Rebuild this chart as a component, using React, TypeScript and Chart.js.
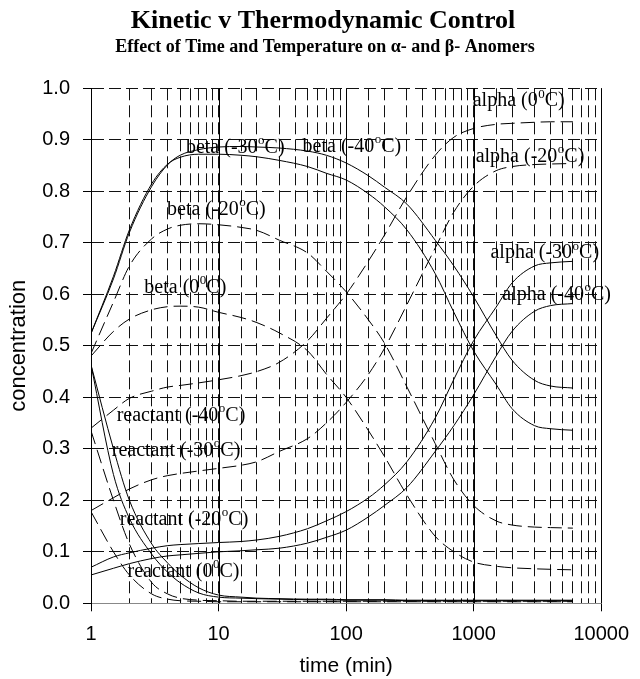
import React, { useEffect, useRef } from 'react';
import { Chart, registerables } from 'chart.js';

Chart.register(...registerables);

// ---- data (time in minutes, concentration fraction) ----
const times = [1, 1.5, 2, 3, 4, 5, 7, 10, 15, 20, 30, 50, 70, 100, 150, 200, 300, 500, 700, 1000, 1500, 2000, 3000, 4000, 6000];

const beta0 = [0.48, 0.528, 0.552, 0.57, 0.576, 0.577, 0.575, 0.565, 0.555, 0.545, 0.525, 0.49, 0.445, 0.4, 0.335, 0.285, 0.21, 0.13, 0.1, 0.08, 0.072, 0.069, 0.067, 0.066, 0.065];
const alpha0 = [0.34, 0.375, 0.398, 0.412, 0.42, 0.423, 0.428, 0.434, 0.442, 0.45, 0.468, 0.51, 0.553, 0.6, 0.665, 0.715, 0.79, 0.87, 0.905, 0.922, 0.93, 0.932, 0.934, 0.935, 0.935];
const reactant0 = [0.178, 0.1, 0.055, 0.018, 0.008, 0.005, 0.004, 0.003, 0.003, 0.003, 0.003, 0.003, 0.003, 0.003, 0.003, 0.003, 0.003, 0.003, 0.003, 0.003, 0.003, 0.003, 0.003, 0.003, 0.003];

const beta20 = [0.485, 0.585, 0.655, 0.708, 0.727, 0.734, 0.737, 0.735, 0.73, 0.724, 0.705, 0.68, 0.645, 0.605, 0.55, 0.505, 0.42, 0.31, 0.24, 0.19, 0.16, 0.152, 0.148, 0.147, 0.146];
const alpha20 = [0.18, 0.205, 0.222, 0.24, 0.248, 0.252, 0.257, 0.262, 0.268, 0.275, 0.295, 0.32, 0.35, 0.39, 0.445, 0.495, 0.58, 0.69, 0.76, 0.81, 0.84, 0.848, 0.852, 0.853, 0.854];
const reactant20 = [0.335, 0.2, 0.115, 0.04, 0.018, 0.01, 0.006, 0.005, 0.004, 0.004, 0.004, 0.004, 0.004, 0.004, 0.004, 0.004, 0.004, 0.004, 0.004, 0.004, 0.004, 0.004, 0.004, 0.004, 0.004];

const beta30 = [0.524, 0.635, 0.725, 0.815, 0.853, 0.866, 0.872, 0.872, 0.87, 0.867, 0.86, 0.848, 0.835, 0.822, 0.795, 0.77, 0.725, 0.64, 0.565, 0.49, 0.425, 0.378, 0.345, 0.339, 0.336];
const alpha30 = [0.07, 0.09, 0.098, 0.107, 0.112, 0.114, 0.116, 0.118, 0.12, 0.123, 0.13, 0.145, 0.16, 0.178, 0.205, 0.23, 0.275, 0.36, 0.435, 0.51, 0.575, 0.622, 0.655, 0.661, 0.664];
const reactant30 = [0.463, 0.25, 0.165, 0.095, 0.06, 0.04, 0.02, 0.012, 0.01, 0.009, 0.008, 0.007, 0.007, 0.006, 0.006, 0.006, 0.005, 0.005, 0.005, 0.005, 0.005, 0.005, 0.005, 0.005, 0.005];

const beta40 = [0.524, 0.63, 0.72, 0.81, 0.852, 0.87, 0.881, 0.886, 0.887, 0.886, 0.884, 0.878, 0.87, 0.855, 0.83, 0.808, 0.775, 0.705, 0.655, 0.595, 0.52, 0.472, 0.433, 0.422, 0.418];
const alpha40 = [0.055, 0.068, 0.077, 0.087, 0.092, 0.094, 0.097, 0.1, 0.102, 0.104, 0.107, 0.117, 0.128, 0.142, 0.168, 0.19, 0.225, 0.295, 0.345, 0.405, 0.48, 0.528, 0.567, 0.578, 0.582];
const reactant40 = [0.463, 0.3, 0.2, 0.115, 0.078, 0.055, 0.03, 0.016, 0.012, 0.01, 0.009, 0.008, 0.008, 0.007, 0.007, 0.007, 0.006, 0.006, 0.006, 0.006, 0.006, 0.006, 0.006, 0.006, 0.006];

// tick values
const xDecades = [1, 10, 100, 1000, 10000];
const yStep = 0.1;

// titles
const titleText = 'Kinetic v Thermodynamic Control';
const subtitleText = 'Effect of Time and Temperature on α- and β- Anomers';

// in-chart labels: anchor time, anchor concentration, text, superscript
const labelTimes = [5.55, 45.6, 3.95, 2.62, 983, 1037, 1355, 1679, 1.59, 1.455, 1.68, 1.935];
const labelValues = [0.885, 0.886, 0.764, 0.613, 0.975, 0.867, 0.68, 0.599, 0.364, 0.296, 0.162, 0.061];
const labelTexts = ['beta (-30', 'beta (-40', 'beta (-20', 'beta (0', 'alpha (0', 'alpha (-20', 'alpha (-30', 'alpha (-40', 'reactant (-40', 'reactant (-30', 'reactant (-20', 'reactant (0'];
const labelSups = ['o', 'o', 'o', '0', '0', 'o', 'o', 'o', 'o', 'o', 'o', '0'];

const SERIF = '"Liberation Serif", "Times New Roman", serif';
const SANS = '"Liberation Sans", Arial, sans-serif';

const isDecade = (v: number) => {
  const l = Math.log10(v);
  return Math.abs(l - Math.round(l)) < 1e-9;
};

const mk = (label: string, arr: number[], dashed: boolean) => ({
  label,
  data: times.map((t, i) => ({ x: t, y: arr[i] })),
  borderColor: '#000',
  backgroundColor: '#000',
  borderWidth: 1,
  borderDash: dashed ? [14, 6] : [],
  pointRadius: 0,
  fill: false,
  cubicInterpolationMode: 'monotone' as const,
});

const titlePlugin = {
  id: 'titles',
  afterDraw(chart: any) {
    const { ctx } = chart;
    ctx.save();
    ctx.fillStyle = '#000';
    ctx.textAlign = 'center';
    ctx.textBaseline = 'middle';
    ctx.font = `bold 26px ${SERIF}`;
    ctx.fillText(titleText, 323, 21);
    ctx.font = `bold 18px ${SERIF}`;
    ctx.fillText(subtitleText, 325, 47);
    ctx.restore();
  },
};

const decadeLinesPlugin = {
  id: 'decadeLines',
  beforeDatasetsDraw(chart: any) {
    const { ctx, chartArea, scales } = chart;
    const xs = scales.x;
    ctx.save();
    ctx.strokeStyle = '#000';
    ctx.lineWidth = 1;
    ctx.setLineDash([]);
    xDecades.forEach((d) => {
      const px = Math.round(xs.getPixelForValue(d)) + 0.5;
      ctx.beginPath();
      ctx.moveTo(px, chartArea.top);
      ctx.lineTo(px, chartArea.bottom);
      ctx.stroke();
    });
    ctx.restore();
  },
};

const labelPlugin = {
  id: 'curveLabels',
  afterDatasetsDraw(chart: any) {
    const { ctx, scales } = chart;
    ctx.save();
    ctx.fillStyle = '#000';
    ctx.textBaseline = 'middle';
    ctx.textAlign = 'left';
    labelTexts.forEach((txt, i) => {
      const x = scales.x.getPixelForValue(labelTimes[i]);
      const y = scales.y.getPixelForValue(labelValues[i]);
      ctx.font = `20px ${SERIF}`;
      ctx.fillText(txt, x, y);
      let cx = x + ctx.measureText(txt).width;
      ctx.font = `13px ${SERIF}`;
      ctx.fillText(labelSups[i], cx + 0.5, y - 7);
      cx += ctx.measureText(labelSups[i]).width + 0.5;
      ctx.font = `20px ${SERIF}`;
      ctx.fillText('C)', cx, y);
    });
    ctx.restore();
  },
};

export default function App() {
  const canvasRef = useRef<HTMLCanvasElement | null>(null);

  useEffect(() => {
    if (!canvasRef.current) return;
    const chart = new Chart(canvasRef.current, {
      type: 'line',
      data: {
        datasets: [
          mk('beta (0°C)', beta0, true),
          mk('alpha (0°C)', alpha0, true),
          mk('reactant (0°C)', reactant0, true),
          mk('beta (-20°C)', beta20, true),
          mk('alpha (-20°C)', alpha20, true),
          mk('reactant (-20°C)', reactant20, true),
          mk('beta (-30°C)', beta30, false),
          mk('alpha (-30°C)', alpha30, false),
          mk('reactant (-30°C)', reactant30, false),
          mk('beta (-40°C)', beta40, false),
          mk('alpha (-40°C)', alpha40, false),
          mk('reactant (-40°C)', reactant40, false),
        ],
      },
      options: {
        animation: false,
        responsive: false,
        devicePixelRatio: 1,
        layout: { padding: { left: 0, right: 33, top: 88.3, bottom: 0 } },
        plugins: {
          legend: { display: false },
          tooltip: { enabled: false },
          title: { display: false },
        },
        scales: {
          x: {
            type: 'logarithmic',
            min: 1,
            max: 10000,
            afterFit: (scale: any) => { scale.height = 75.7; },
            title: {
              display: true,
              text: 'time (min)',
              color: '#000',
              font: { family: SANS, size: 21 },
              padding: { top: 0, bottom: 0 },
            },
            ticks: {
              autoSkip: false,
              maxRotation: 0,
              minRotation: 0,
              color: '#000',
              padding: 11,
              font: { family: SANS, size: 20 },
              callback: (v: any) => (isDecade(Number(v)) ? String(Number(v)) : ''),
            },
            grid: {
              color: '#111',
              lineWidth: 1,
              tickLength: 8,
              tickColor: (ctx: any) => (ctx.tick && isDecade(ctx.tick.value) ? '#000' : 'rgba(0,0,0,0)'),
            },
            border: { display: true, color: '#888', width: 1, dash: [12, 5] },
          },
          y: {
            type: 'linear',
            min: 0,
            max: 1,
            afterFit: (scale: any) => { scale.width = 91; },
            title: {
              display: true,
              text: 'concentration',
              color: '#000',
              font: { family: SANS, size: 22 },
              padding: { top: 6, bottom: 0 },
            },
            ticks: {
              stepSize: yStep,
              color: '#000',
              padding: 13,
              font: { family: SANS, size: 20 },
              callback: (v: any) => Number(v).toFixed(1),
            },
            grid: {
              color: '#111',
              lineWidth: 1,
              tickLength: 8,
              tickColor: '#000',
            },
            border: { display: true, color: '#000', width: 1, dash: [12, 5] },
          },
        },
      },
      plugins: [titlePlugin, decadeLinesPlugin, labelPlugin],
    } as any);
    return () => chart.destroy();
  }, []);

  return (
    <div style={{ position: 'absolute', left: 0, top: 0, width: 640, height: 679, background: '#fff' }}>
      <canvas ref={canvasRef} width={640} height={679} style={{ display: 'block' }} />
    </div>
  );
}
